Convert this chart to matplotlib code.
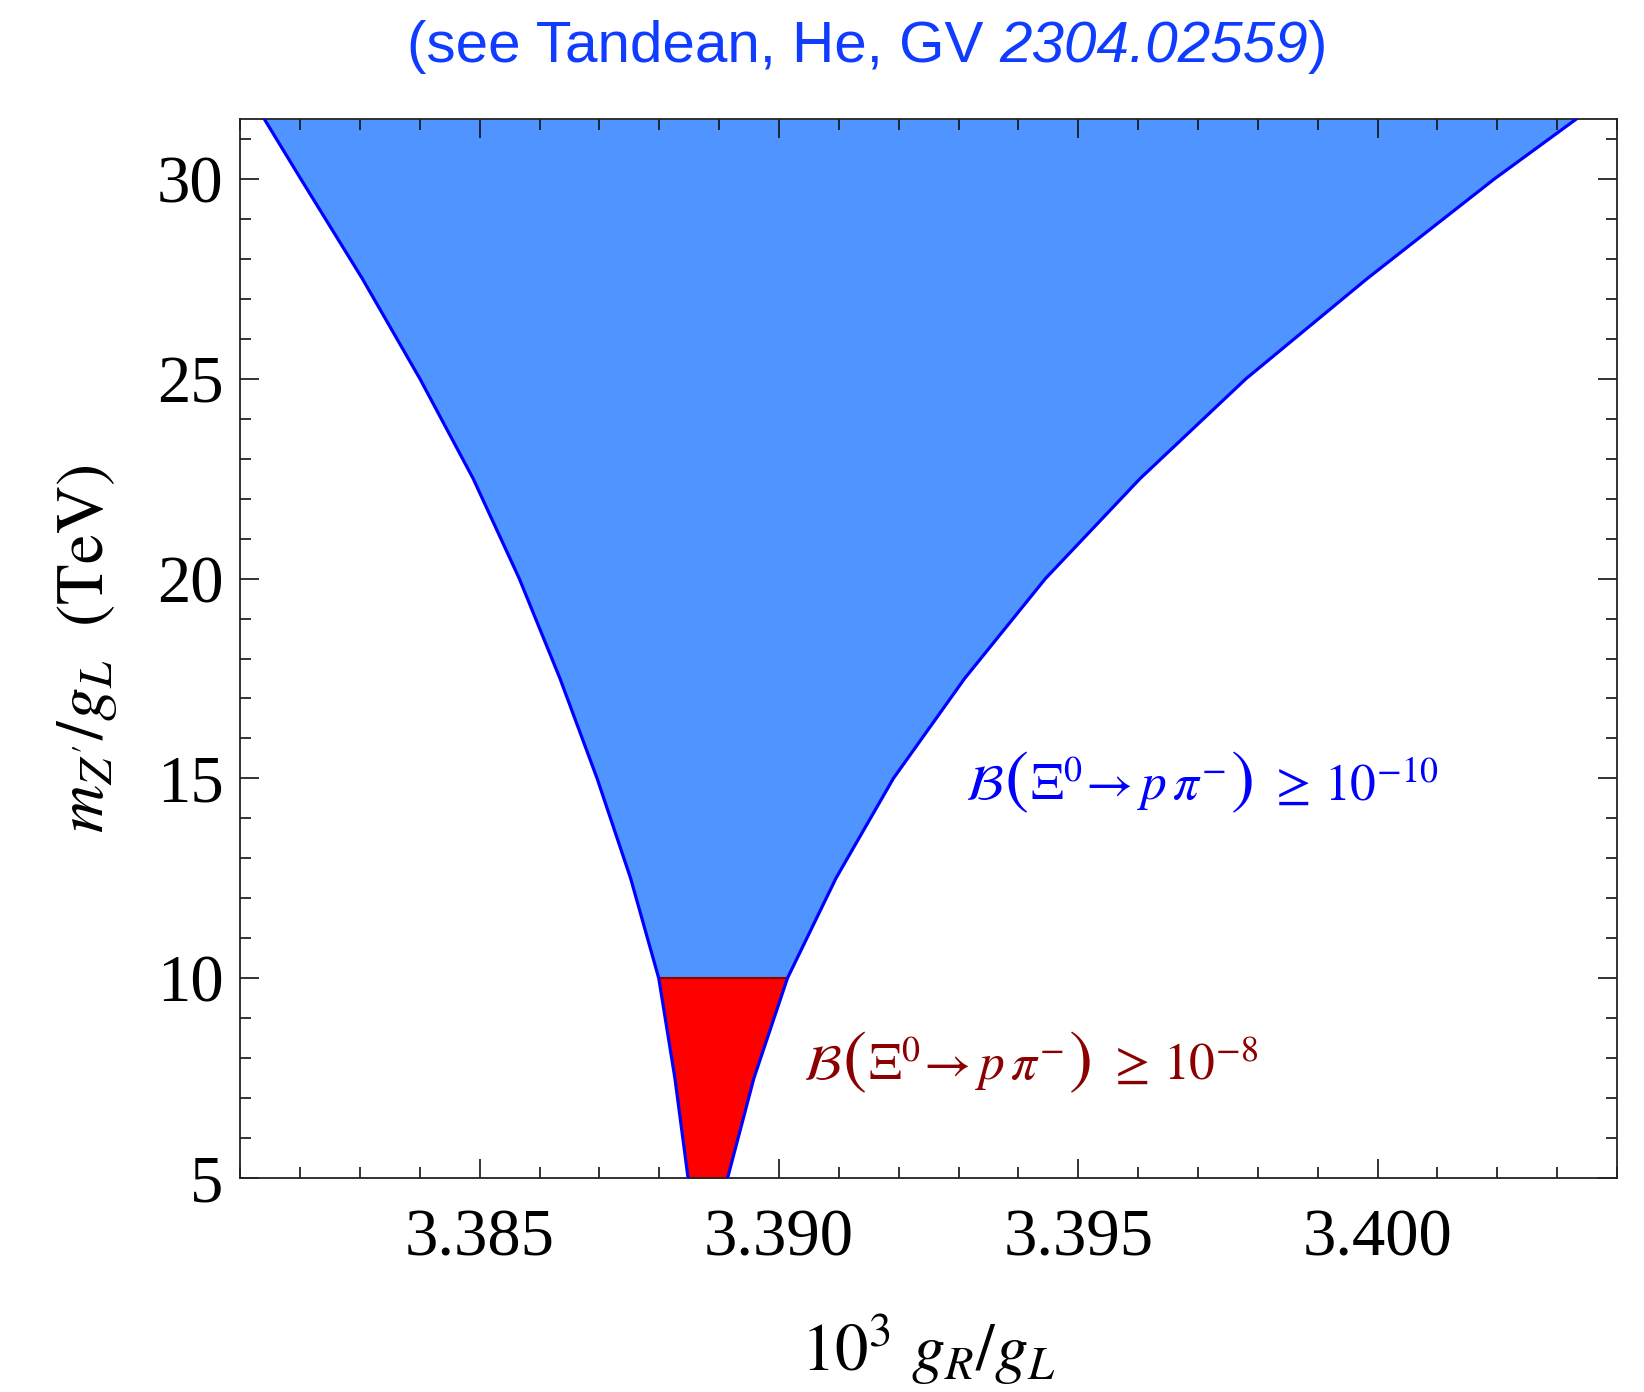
import matplotlib
matplotlib.use('Agg')
import matplotlib.pyplot as plt
import matplotlib.transforms as mtransforms
import numpy as np
from matplotlib.ticker import MultipleLocator

# boundary of the allowed region
m_over_g = [5, 7.5, 10, 12.5, 15, 17.5, 20, 22.5, 25, 27.5, 30, 31.5]
left_edge = [3.38848, 3.38826, 3.38799, 3.38752, 3.38696, 3.38634, 3.38566, 3.38489, 3.38400, 3.38304, 3.38201, 3.38140]
right_edge = [3.38914, 3.38958, 3.39014, 3.39095, 3.39191, 3.39310, 3.39445, 3.39603, 3.39780, 3.39982, 3.40195, 3.40332]
red_top = 10  # B >= 1e-8 below this

xlim = (3.381, 3.404)
ylim = (5, 31.5)

plt.rcParams['mathtext.fontset'] = 'stix'
plt.rcParams['font.family'] = ['Liberation Serif', 'DejaVu Serif']

fig = plt.figure(figsize=(16.44, 13.92), dpi=100)
ax = fig.add_axes([0.1462, 0.1537, 0.8374, 0.7608])

y = np.array(m_over_g)
xl = np.array(left_edge)
xr = np.array(right_edge)
low = y <= red_top

ax.fill_betweenx(y, xl, xr, color='#4f94ff', lw=0, zorder=1)
ax.fill_betweenx(y[low], xl[low], xr[low], color='#ff0000', lw=0, zorder=2)
ax.hlines(red_top, xl[low][-1], xr[low][-1], color='#8b0000', lw=1.5, zorder=3)
ax.plot(xl, y, color='#0000ff', lw=2.3, zorder=4, solid_joinstyle='round')
ax.plot(xr, y, color='#0000ff', lw=2.3, zorder=4, solid_joinstyle='round')

ax.set_xlim(*xlim)
ax.set_ylim(*ylim)
ax.set_xticks([3.385, 3.390, 3.395, 3.400])
ax.set_xticklabels(['3.385', '3.390', '3.395', '3.400'])
ax.xaxis.set_minor_locator(MultipleLocator(0.001))
ax.set_yticks([5, 10, 15, 20, 25, 30])
ax.yaxis.set_minor_locator(MultipleLocator(1))

ax.tick_params(which='both', direction='in', top=True, right=True, width=1.2, color='#111111')
ax.tick_params(which='major', length=14)
ax.tick_params(which='minor', length=8)
ax.tick_params(axis='x', which='major', labelsize=48, pad=22)
ax.tick_params(axis='y', which='major', labelsize=48, pad=12)
for s in ax.spines.values():
    s.set_linewidth(1.3)
    s.set_color('#222222')

ax.set_xlabel(r'$10^3\ g_R/g_L$', fontsize=48)
ax.xaxis.set_label_coords(0.5, -0.127)
ax.set_ylabel(r"$m_{Z'}/g_L\ \ \mathrm{(TeV)}$", fontsize=48)
ax.yaxis.set_label_coords(-0.088, 0.5)

renderer = fig.canvas.get_renderer()
ident = mtransforms.IdentityTransform()


def chain(x0, y0, pieces, color):
    # place text pieces one after another on a common baseline
    px, py = ax.transData.transform((x0, y0))
    for s, fs, gap in pieces:
        t = ax.text(px, py, s, transform=ident, fontsize=fs, color=color,
                    va='baseline', ha='left')
        px = t.get_window_extent(renderer).x1 + gap


def label_pieces(expo):
    return [(r'$\mathcal{B}$', 37, 1), (r'$($', 52, 2),
            (r'$\Xi^{0}\!\rightarrow p\,\pi^{-}$', 37, 4), (r'$)$', 52, 16),
            (r'$\geq\, 10^{%s}$' % expo, 37, 0)]


chain(3.3931, 14.45, label_pieces('-10'), '#0000ff')
chain(3.3904, 7.45, label_pieces('-8'), '#8b0000')

# title in pieces: normal + italic + normal
tcol = '#0f3cff'
tx = 407 / 1644
ty = 0.966
t1 = fig.text(tx, ty, '(see Tandean, He, GV', family='Liberation Sans', fontsize=42, color=tcol, va='center')
bb = t1.get_window_extent(renderer)
tx = (bb.x1 + 16) / fig.bbox.width
t2 = fig.text(tx, ty, '2304.02559', family='Liberation Sans', style='italic', fontsize=42, color=tcol, va='center')
bb = t2.get_window_extent(renderer)
tx = bb.x1 / fig.bbox.width
fig.text(tx, ty, ')', family='Liberation Sans', fontsize=42, color=tcol, va='center')

fig.savefig('out.png', dpi=100)
plt.close(fig)
